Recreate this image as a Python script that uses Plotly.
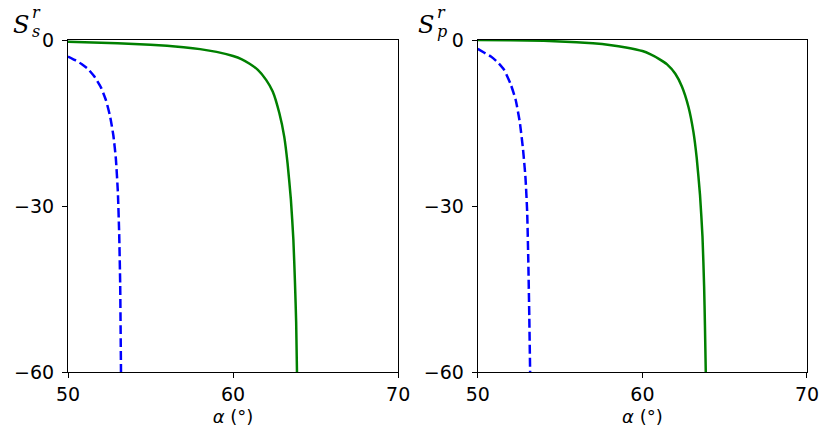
import plotly.graph_objects as go

FONT = 'DejaVu Sans'
SERIF = 'DejaVu Serif'
GREEN = '#008000'
BLUE = '#0000ff'
W, H = 831, 436
L, R, T, B = 68, 20, 40, 64

# left panel (S_s^r)
s_blue_x = [50.0, 50.4, 50.8, 51.2, 51.6, 52.0, 52.3, 52.55, 52.75, 52.9, 53.02, 53.1, 53.16, 53.21]
s_blue_y = [-3.0, -3.6, -4.3, -5.2, -6.6, -8.6, -10.9, -13.8, -17.3, -21.5, -27.5, -35.0, -44.0, -60.0]
s_green_x = [50, 52, 54, 56, 57, 58, 59, 60, 60.5, 61, 61.5, 62, 62.4, 62.8, 63.1, 63.3, 63.5, 63.65, 63.75, 63.82, 63.87]
s_green_y = [-0.33, -0.5, -0.72, -1.05, -1.3, -1.65, -2.15, -2.9, -3.45, -4.3, -5.4, -7.2, -9.3, -13.2, -17.5, -22.3, -28.8, -36.0, -44.0, -51.0, -60.0]

# right panel (S_p^r)
p_blue_x = [50.0, 50.4, 50.8, 51.2, 51.6, 52.0, 52.3, 52.55, 52.75, 52.9, 53.0, 53.07, 53.13, 53.18]
p_blue_y = [-1.6, -2.3, -3.0, -4.0, -5.4, -8.0, -10.8, -14.8, -19.8, -25.0, -31.0, -40.0, -50.0, -60.0]
p_green_x = [50, 52, 54, 56, 57, 58, 59, 60, 60.5, 61, 61.5, 62, 62.4, 62.8, 63.1, 63.3, 63.5, 63.65, 63.75, 63.8, 63.85]
p_green_y = [0.0, -0.05, -0.15, -0.4, -0.6, -0.9, -1.35, -2.0, -2.6, -3.4, -4.4, -6.1, -8.4, -12.1, -16.6, -21.3, -28.0, -35.5, -44.5, -51.5, -60.0]

x_ticks = [50, 60, 70]
y_ticks = [0, -30, -60]

fig = go.Figure()

for xa, ya, bx, by, gx, gy in [
    ('x', 'y', s_blue_x, s_blue_y, s_green_x, s_green_y),
    ('x2', 'y2', p_blue_x, p_blue_y, p_green_x, p_green_y),
]:
    fig.add_trace(go.Scatter(x=bx, y=by, xaxis=xa, yaxis=ya, mode='lines',
                             line=dict(color=BLUE, width=2.5, dash='9px,4px', shape='spline', smoothing=0.5)))
    fig.add_trace(go.Scatter(x=gx, y=gy, xaxis=xa, yaxis=ya, mode='lines',
                             line=dict(color=GREEN, width=2.5, shape='spline', smoothing=0.5)))

axis_style = dict(
    showgrid=False, zeroline=False, showline=True, mirror=True,
    linecolor='black', linewidth=1.2, ticks='outside', ticklen=5,
    tickwidth=1.2, tickcolor='black',
    tickfont=dict(family=FONT, size=19, color='black'),
)
x_title = dict(text='<i>α</i> (°)', font=dict(family=FONT, size=18, color='black'), standoff=6)

fig.update_layout(
    width=W, height=H,
    margin=dict(l=L, r=R, t=T, b=B),
    paper_bgcolor='white', plot_bgcolor='white',
    showlegend=False,
    xaxis=dict(domain=[0, 0.4468], range=[50, 70], tickvals=x_ticks, anchor='y',
               title=x_title, **axis_style),
    yaxis=dict(domain=[0, 1], range=[-60, 0], tickvals=y_ticks, anchor='x',
               ticklabelstandoff=4, **axis_style),
    xaxis2=dict(domain=[0.5545, 1], range=[50, 70], tickvals=x_ticks, anchor='y2',
                title=x_title, **axis_style),
    yaxis2=dict(domain=[0, 1], range=[-60, 0], tickvals=y_ticks, anchor='x2',
                ticklabelstandoff=4, **axis_style),
)


def px_to_paper(px, py):
    return (px - L) / (W - L - R), (H - B - py) / (H - T - B)


# y labels S_s^r and S_p^r placed at the top-left of each panel
for x0, sub in [(12, 's'), (419, 'p')]:
    for text, dx, py, size in [('S', 0, 25, 24), ('r', 19, 12, 16), (sub, 19, 32, 16)]:
        xp, yp = px_to_paper(x0 + dx, py)
        fig.add_annotation(text='<i>%s</i>' % text, x=xp, y=yp, xref='paper', yref='paper',
                           xanchor='left', yanchor='middle', showarrow=False, borderpad=0,
                           font=dict(family=SERIF, size=size, color='black'))

fig.write_html('out.html', config={'displayModeBar': False},
               post_script=["document.body.style.margin = '0';"])
